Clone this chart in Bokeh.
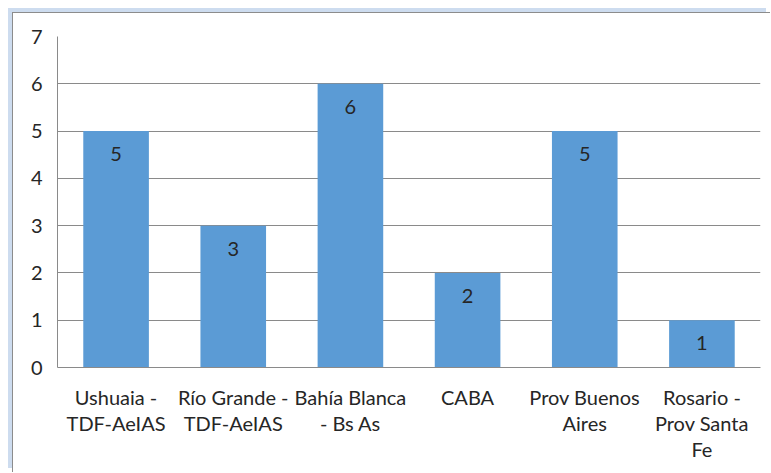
from bokeh.plotting import figure
from bokeh.models import ColumnDataSource, FixedTicker, InlineStyleSheet
from bokeh.embed import file_html
from bokeh.resources import INLINE
from bokeh.core.properties import value

categories = ["Ushuaia - TDF-AeIAS", "Río Grande - TDF-AeIAS", "Bahía Blanca - Bs As",
              "CABA", "Prov Buenos Aires", "Rosario - Prov Santa Fe"]
tick_labels = ["Ushuaia -\nTDF-AeIAS", "Río Grande -\nTDF-AeIAS", "Bahía Blanca\n- Bs As",
               "CABA", "Prov Buenos\nAires", "Rosario -\nProv Santa\nFe"]
counts = [5, 3, 6, 2, 5, 1]
y_ticks = [0, 1, 2, 3, 4, 5, 6, 7]

FONT = "Lato"
TXT = "#262626"
GRID = "#8a8a8a"

pos = list(range(len(categories)))
src = ColumnDataSource(dict(x=pos, cat=categories, val=counts, lab=[str(v) for v in counts]))

p = figure(x_range=(-0.5, len(categories) - 0.5), y_range=(0, 7), width=758, height=460,
           output_backend="svg", toolbar_location=None,
           min_border_left=44, min_border_right=11, min_border_top=23, min_border_bottom=106)
p.vbar(x="x", top="val", width=0.56, source=src, fill_color="#5b9bd5", line_color=None)
p.text(x="x", y="val", text="lab", source=src, y_offset=23, text_align="center",
       text_baseline="middle", text_font=value(FONT), text_font_size="20px", text_color=TXT)

p.outline_line_color = None
p.background_fill_color = "white"
p.border_fill_color = "white"
p.xgrid.grid_line_color = None
p.ygrid.grid_line_color = GRID
p.ygrid.ticker = FixedTicker(ticks=y_ticks)

p.yaxis.ticker = FixedTicker(ticks=y_ticks)
p.yaxis.axis_line_color = GRID
p.yaxis.major_tick_line_color = None
p.yaxis.minor_tick_line_color = None
p.yaxis.major_label_standoff = 9
p.yaxis.major_label_text_font = FONT
p.yaxis.major_label_text_font_size = "20px"
p.yaxis.major_label_text_color = TXT

p.xaxis.ticker = FixedTicker(ticks=pos)
p.xaxis.axis_line_color = GRID
p.xaxis.major_tick_line_color = None
p.xaxis.minor_tick_line_color = None
p.xaxis.major_label_standoff = 11
p.xaxis.major_label_text_font = FONT
p.xaxis.major_label_text_font_size = "20px"
p.xaxis.major_label_text_color = TXT
p.xaxis.major_label_overrides = {i: t for i, t in zip(pos, tick_labels)}
p.xaxis.major_label_text_line_height = 1.1

p.stylesheets = [InlineStyleSheet(css=(
    ":host { margin-left: 12px; margin-top: 12px;"
    " border-left: 1px solid #8c8c8c; border-top: 1px solid #8c8c8c;"
    " box-shadow: -4px -4px 0 0 #cddcef; }"))]

open("out.html", "w").write(file_html(p, INLINE))
